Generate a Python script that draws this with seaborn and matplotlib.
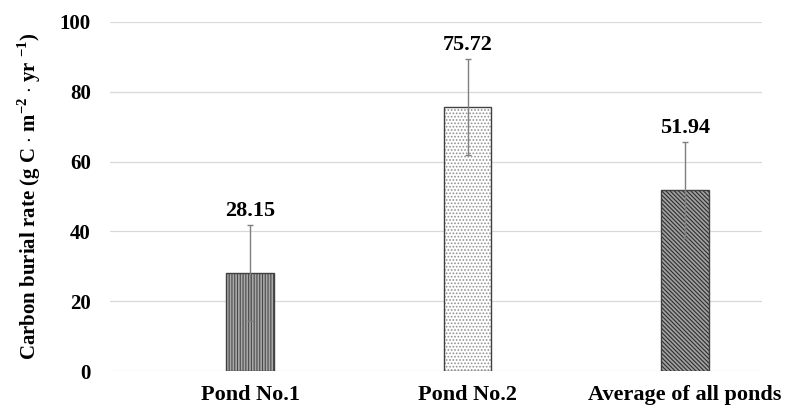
import numpy as np
import pandas as pd
import seaborn as sns
import matplotlib.pyplot as plt

# data
ponds = ["Pond No.1", "Pond No.2", "Average of all ponds"]
burialRate = [28.15, 75.72, 51.94]
burialErr = [13.7, 13.7, 13.7]

sns.set_theme(style="white")
plt.rcParams['font.family'] = ['Liberation Serif', 'DejaVu Serif']
plt.rcParams['font.weight'] = 'bold'
plt.rcParams['mathtext.fontset'] = 'custom'
plt.rcParams['mathtext.bf'] = 'Liberation Serif:bold'
plt.rcParams['mathtext.rm'] = 'Liberation Serif:bold'
plt.rcParams['hatch.linewidth'] = 0.8
for k in ['text.color', 'axes.labelcolor', 'xtick.color', 'ytick.color']:
    plt.rcParams[k] = 'black'

df = pd.DataFrame({"pond": ponds, "rate": burialRate})

fig = plt.figure(figsize=(7.92, 4.11), dpi=100)
ax = fig.add_axes([0.139, 0.0973, 0.823, 0.8492])

sns.barplot(data=df, x="pond", y="rate", ax=ax, width=0.22,
            color="white", errorbar=None, zorder=2)

# fill / hatch style for each bar
styles = [("#a8a8a8", "#4a4a4a", "||||||"),
          ("white", "#909090", "....."),
          ("#a0a0a0", "#2e2e2e", "\\\\\\\\\\\\\\\\")]
for bar, (fc, hc, h) in zip(ax.patches, styles):
    bar.set_facecolor(fc)
    bar.set_hatch(h)
    bar.set_edgecolor(hc)
    bar.set_linewidth(0)
    # outline drawn separately so hatch colour can differ
    ax.add_patch(plt.Rectangle(bar.get_xy(), bar.get_width(), bar.get_height(),
                               fill=False, edgecolor="#404040", linewidth=1.0, zorder=3))

x = np.arange(len(ponds))
ax.errorbar(x, burialRate, yerr=burialErr, fmt="none", ecolor="#7f7f7f",
            elinewidth=1.0, capsize=2.3, capthick=1.0, zorder=4)

for xi, v, e in zip(x, burialRate, burialErr):
    ax.text(xi, v + e + 1.0, f"{v:.2f}", ha="center", va="bottom",
            fontsize=16, fontweight="bold")

ax.set_xlim(-0.645, 2.355)
ax.set_ylim(0, 100)
ax.set_yticks([0, 20, 40, 60, 80, 100])
ax.yaxis.grid(True, color="#d9d9d9", linewidth=0.9, zorder=0)
ax.set_axisbelow(True)
for s in ax.spines.values():
    s.set_visible(False)
ax.tick_params(axis="y", length=0, pad=14, labelsize=15)
ax.tick_params(axis="x", length=0, pad=10, labelsize=16)
for lab in ax.get_xticklabels() + ax.get_yticklabels():
    lab.set_fontweight("bold")
ax.set_xlabel("")
ax.set_ylabel(r"Carbon burial rate (g C $\cdot$ m$^{\mathbf{-2}}$ $\cdot$ yr $^{\mathbf{-1}}$)",
              fontsize=15, fontweight="bold", labelpad=12)

fig.savefig("out.png", dpi=100)
